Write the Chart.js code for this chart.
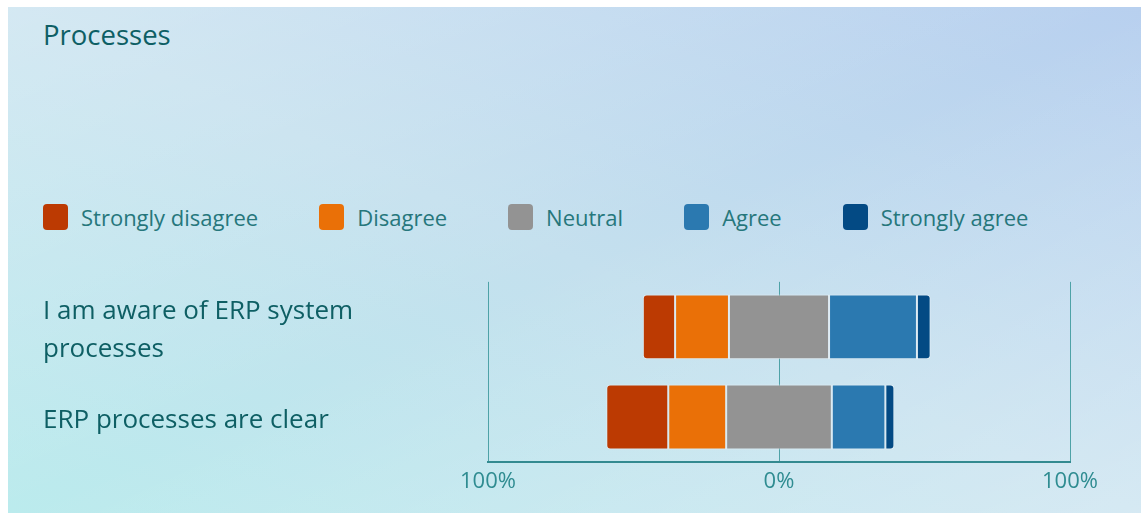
<!DOCTYPE html>
<html>
<head>
<meta charset="utf-8">
<script src="https://cdn.jsdelivr.net/npm/chart.js@4/dist/chart.umd.min.js"></script>
<style>
  html, body { margin: 0; padding: 0; width: 1141px; height: 513px; overflow: hidden; background: #fff; }
  body { font-family: 'Open Sans', sans-serif; position: relative; }
  .card {
    position: absolute; left: 8px; top: 7px; right: 0; bottom: 0;
    background:
      linear-gradient(to bottom right, rgba(255,255,255,0.28) 0%, rgba(255,255,255,0) 50%, rgba(255,255,255,0.3) 100%),
      linear-gradient(to top right, #bbebed 0%, #c4e0ee 50%, #b8d0ef 100%);
  }
  .title {
    position: absolute; left: 43px; top: 21px;
    font-size: 27.5px; line-height: 27px; color: #0e5f65;
  }
  .legend {
    position: absolute; left: 43px; top: 204px;
    display: flex; align-items: center; gap: 61px;
  }
  .legend-item { display: flex; align-items: center; }
  .legend-box { width: 25px; height: 26px; border-radius: 4px; margin-right: 13px; }
  .legend-text { font-size: 22px; line-height: 22px; color: #26777c; white-space: nowrap; }
  .chart-wrap { position: absolute; left: 0; top: 260px; width: 1141px; height: 253px; }
</style>
</head>
<body>
<div class="card"></div>
<div class="title">Processes</div>
<div class="legend" id="legend"></div>
<div class="chart-wrap"><canvas id="chart"></canvas></div>
<script>
// survey questions
const categories = [['I am aware of ERP system', 'processes'], 'ERP processes are clear'];

// answer shares in percent, one value per question
const stronglyDisagree = [11.1, 21.3];
const disagree = [18.5, 19.9];
const neutral = [34.4, 36.3];
const agree = [30.2, 18.4];
const stronglyAgree = [4.7, 3.1];

const seriesNames = ['Strongly disagree', 'Disagree', 'Neutral', 'Agree', 'Strongly agree'];
const seriesColors = ['#bc3a02', '#ea7007', '#939393', '#2b79b0', '#034a84'];

// x axis runs from -100% to 100%
const axisMin = -100;
const axisMax = 100;
const axisStep = 100;

// neutral is split around 0, everything else stacks outward from it
const series = [stronglyDisagree, disagree, neutral, agree, stronglyAgree];
const ranges = series.map(() => []);
categories.forEach((_, i) => {
  let pos = -(stronglyDisagree[i] + disagree[i] + neutral[i] / 2);
  series.forEach((vals, s) => {
    ranges[s].push([pos, pos + vals[i]]);
    pos += vals[i];
  });
});

const radius = 4;
const corners = [
  { topLeft: radius, bottomLeft: radius, topRight: 0, bottomRight: 0 },
  0, 0, 0,
  { topLeft: 0, bottomLeft: 0, topRight: radius, bottomRight: radius }
];

Chart.defaults.font.family = "'Open Sans', sans-serif";

const chart = new Chart(document.getElementById('chart'), {
  type: 'bar',
  data: {
    labels: categories,
    datasets: seriesNames.map((name, s) => ({
      label: name,
      data: ranges[s],
      backgroundColor: seriesColors[s],
      borderColor: 'rgba(232, 240, 245, 0.75)',
      borderWidth: 1,
      borderSkipped: false,
      borderRadius: corners[s]
    }))
  },
  options: {
    indexAxis: 'y',
    responsive: true,
    maintainAspectRatio: false,
    animation: false,
    layout: { padding: { left: 43, top: 19, right: 71, bottom: 0 } },
    plugins: {
      legend: { display: false },
      title: { display: false },
      tooltip: { enabled: false }
    },
    scales: {
      x: {
        min: axisMin,
        max: axisMax,
        ticks: {
          stepSize: axisStep,
          callback: (v) => Math.abs(v) + '%',
          color: '#2f8c91',
          font: { size: 22 },
          padding: 7,
          maxRotation: 0
        },
        grid: { color: '#4ea2a7', lineWidth: 1, drawTicks: false },
        border: { color: '#338a90', width: 2 },
        afterFit: (scale) => { scale.height = 51; }
      },
      y: {
        stacked: true,
        grid: { display: false },
        border: { display: false },
        ticks: {
          crossAlign: 'far',
          color: '#0e5f64',
          labelOffset: 4,
          font: { size: 26, lineHeight: 1.45 }
        },
        afterFit: (scale) => { scale.width = 445; }
      }
    }
  }
});

// legend drawn from the same datasets
const legendEl = document.getElementById('legend');
chart.data.datasets.forEach((ds) => {
  const item = document.createElement('div');
  item.className = 'legend-item';
  const box = document.createElement('div');
  box.className = 'legend-box';
  box.style.background = ds.backgroundColor;
  const text = document.createElement('span');
  text.className = 'legend-text';
  text.textContent = ds.label;
  item.appendChild(box);
  item.appendChild(text);
  legendEl.appendChild(item);
});
</script>
</body>
</html>
